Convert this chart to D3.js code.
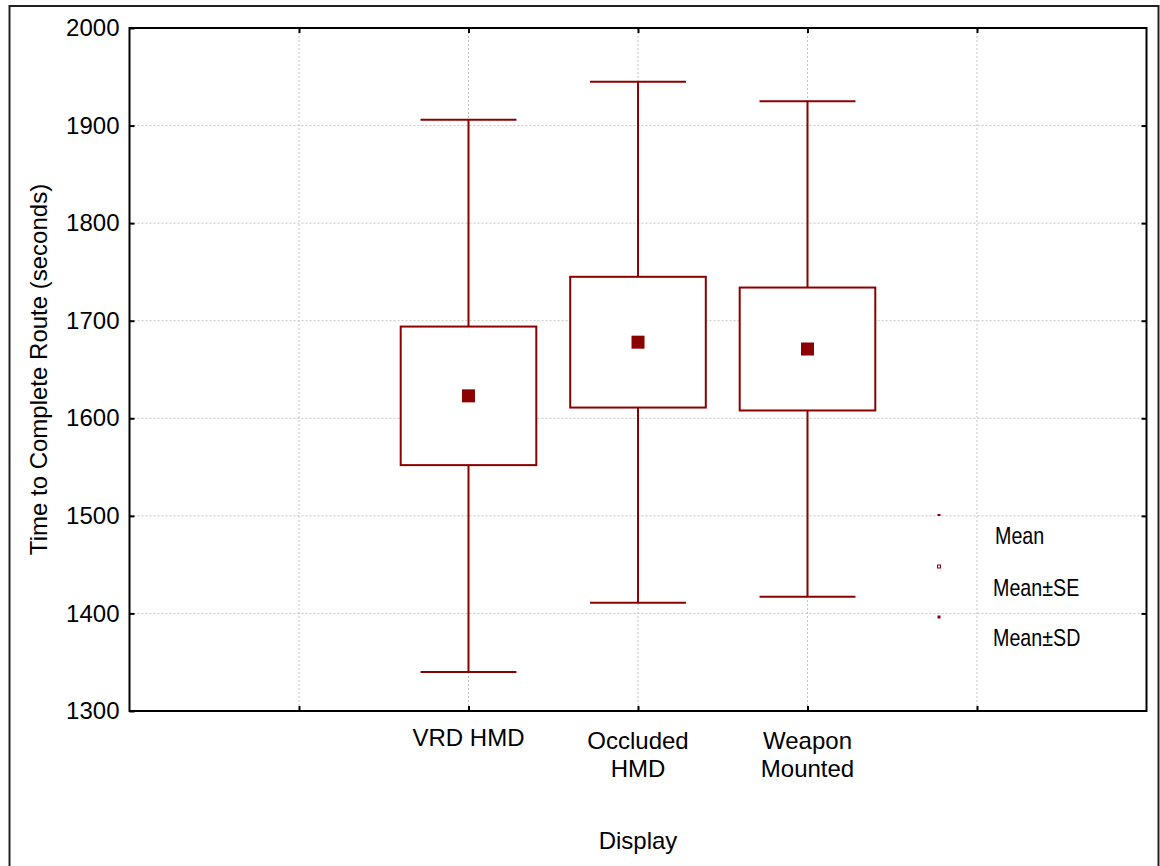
<!DOCTYPE html>
<html>
<head>
    <meta charset="utf-8">
    <title>Time to Complete Route by Display</title>
    <script src="https://d3js.org/d3.v7.min.js"></script>
    <style>
        body {
            margin: 0;
            background: #fff;
        }

        text {
            font-family: "Liberation Sans", Arial, sans-serif;
            font-size: 24px;
            fill: #000;
        }
    </style>
</head>
<body>
    <div id="chart"></div>
    <script>

        // data
        var categories = [["VRD HMD"], ["Occluded", "HMD"], ["Weapon", "Mounted"]]
        var means = [1623, 1678, 1671]
        var se = [71, 67, 63]
        var sd = [283, 267, 254]
        var yTicks = [1300, 1400, 1500, 1600, 1700, 1800, 1900, 2000]
        var legendItems = ["Mean", "Mean\u00b1SE", "Mean\u00b1SD"]

        var red = "#8b0000"

        const W = 1160, H = 866
        const margin = { top: 28, right: 13.5, bottom: 155, left: 129.5 },
            width = W - margin.left - margin.right,
            height = H - margin.top - margin.bottom;

        const root = d3.select("#chart")
            .append("svg")
            .attr("width", W)
            .attr("height", H)

        // outer frame
        root.append("rect")
            .attr("x", 9.5).attr("y", 6)
            .attr("width", 1149).attr("height", 880)
            .attr("fill", "none").attr("stroke", "#222").attr("stroke-width", 2)

        const svg = root.append("g")
            .attr("transform", `translate(${margin.left},${margin.top})`);

        // slots: -1 .. 5, categories sit at 1, 2, 3
        const x = d3.scaleLinear().domain([-1, 5]).range([0, width])
        const y = d3.scaleLinear().domain([1300, 2000]).range([height, 0])
        const slot = i => x(i + 1)
        const slotW = x(1) - x(0)

        // grid
        svg.selectAll("line.hgrid")
            .data(yTicks.slice(1, -1))
            .join("line")
            .attr("class", "hgrid")
            .attr("x1", 0).attr("x2", width)
            .attr("y1", d => y(d)).attr("y2", d => y(d))
            .attr("stroke", "#c4c4c4").attr("stroke-dasharray", "2,2")

        svg.selectAll("line.vgrid")
            .data(d3.range(0, 5))
            .join("line")
            .attr("class", "vgrid")
            .attr("x1", d => x(d)).attr("x2", d => x(d))
            .attr("y1", 0).attr("y2", height)
            .attr("stroke", "#c4c4c4").attr("stroke-dasharray", "2,2")

        // whiskers (mean ± SD)
        const g = svg.selectAll("g.cat")
            .data(means)
            .join("g")
            .attr("class", "cat")

        g.append("line")
            .attr("x1", (d, i) => slot(i)).attr("x2", (d, i) => slot(i))
            .attr("y1", (d, i) => y(d + sd[i])).attr("y2", (d, i) => y(d - sd[i]))
            .attr("stroke", red).attr("stroke-width", 2)

        g.selectAll("line.cap")
            .data((d, i) => [[i, d + sd[i]], [i, d - sd[i]]])
            .join("line")
            .attr("class", "cap")
            .attr("x1", d => slot(d[0]) - slotW * 0.283).attr("x2", d => slot(d[0]) + slotW * 0.283)
            .attr("y1", d => y(d[1])).attr("y2", d => y(d[1]))
            .attr("stroke", red).attr("stroke-width", 2)

        // box (mean ± SE)
        g.append("rect")
            .attr("x", (d, i) => slot(i) - slotW * 0.4)
            .attr("width", slotW * 0.8)
            .attr("y", (d, i) => y(d + se[i]))
            .attr("height", (d, i) => y(d - se[i]) - y(d + se[i]))
            .attr("fill", "#fff").attr("stroke", red).attr("stroke-width", 2)

        // mean marker
        g.append("rect")
            .attr("x", (d, i) => slot(i) - 6.5)
            .attr("y", d => y(d) - 6.5)
            .attr("width", 13).attr("height", 13)
            .attr("fill", red)

        // plot frame
        svg.append("rect")
            .attr("width", width).attr("height", height)
            .attr("fill", "none").attr("stroke", "#000").attr("stroke-width", 2)

        // axes
        svg.append("g")
            .call(d3.axisLeft(y).tickValues(yTicks).tickSize(-5).tickPadding(10).tickFormat(d3.format("d")))
            .call(a => a.select(".domain").remove())
            .call(a => a.selectAll("text").style("font-size", "24px"))
            .selectAll("line").attr("stroke-width", 2)

        svg.append("g")
            .attr("transform", `translate(${width},0)`)
            .call(d3.axisRight(y).tickValues(yTicks.slice(1, -1)).tickSize(-5).tickFormat(""))
            .call(a => a.select(".domain").remove())
            .selectAll("line").attr("stroke-width", 2)

        svg.append("g")
            .call(d3.axisTop(x).tickValues(d3.range(0, 5)).tickSize(-5).tickFormat(""))
            .call(a => a.select(".domain").remove())
            .selectAll("line").attr("stroke-width", 2)

        svg.append("g")
            .attr("transform", `translate(0,${height})`)
            .call(d3.axisBottom(x).tickValues(d3.range(0, 5)).tickSize(-5).tickFormat(""))
            .call(a => a.select(".domain").remove())
            .selectAll("line").attr("stroke-width", 2)

        // category labels
        svg.selectAll("text.cat")
            .data(categories)
            .join("text")
            .attr("class", "cat")
            .attr("text-anchor", "middle")
            .attr("x", (d, i) => slot(i))
            .attr("y", d => d.length == 1 ? height + 35 : height + 38)
            .selectAll("tspan")
            .data(d => d)
            .join("tspan")
            .attr("x", function () { return this.parentNode.getAttribute("x") })
            .attr("dy", (d, j) => j == 0 ? 0 : 28)
            .text(d => d)

        // axis titles
        svg.append("text")
            .attr("text-anchor", "middle")
            .attr("x", x(2)).attr("y", height + 138)
            .text("Display")

        svg.append("text")
            .attr("text-anchor", "middle")
            .attr("transform", `translate(${47 - margin.left},${height / 2}) rotate(-90)`)
            .text("Time to Complete Route (seconds)")

        // legend
        const lx = 939 - margin.left
        const leg = svg.append("g").attr("class", "legend")
        const legY = [515, 566.5, 617].map(v => v - margin.top)

        leg.append("rect").attr("x", lx - 1.5).attr("y", legY[0] - 1).attr("width", 3).attr("height", 2).attr("fill", red)
        leg.append("rect").attr("x", lx - 1.5).attr("y", legY[1] - 1.5).attr("width", 3).attr("height", 3)
            .attr("fill", "none").attr("stroke", red).attr("stroke-width", 1)
        leg.append("rect").attr("x", lx - 1.5).attr("y", legY[2] - 1.5).attr("width", 3).attr("height", 3)
            .attr("fill", red)

        // condensed legend labels
        leg.selectAll("text")
            .data(legendItems)
            .join("text")
            .attr("transform", (d, i) => `translate(${(i == 0 ? 995 : 993) - margin.left},${legY[i] + 29}) scale(0.82,1)`)
            .text(d => d)

    </script>
</body>
</html>
